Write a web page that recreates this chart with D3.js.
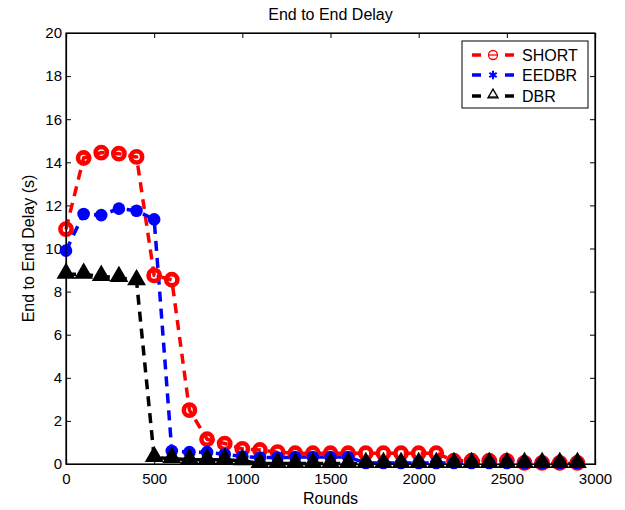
<!DOCTYPE html>
<html><head><meta charset="utf-8">
<script src="https://cdn.jsdelivr.net/npm/d3@7"></script>
<style>body{margin:0;background:#fff;} text{font-family:"Liberation Sans",Arial,sans-serif;}</style>
</head><body>
<svg id="chart" width="625" height="510"></svg>
<script>
const rounds = [0,100,200,300,400,500,600,700,800,900,1000,1100,1200,1300,1400,1500,1600,1700,1800,1900,2000,2100,2200,2300,2400,2500,2600,2700,2800,2900];
const shortVals = [10.9,14.2,14.45,14.4,14.25,8.75,8.55,2.5,1.15,0.95,0.7,0.65,0.55,0.5,0.5,0.5,0.5,0.5,0.5,0.5,0.5,0.5,0.15,0.15,0.15,0.15,0.05,0.05,0.05,0.05];
const eedbrVals = [9.9,11.6,11.55,11.85,11.75,11.35,0.6,0.55,0.55,0.45,0.35,0.3,0.3,0.32,0.32,0.32,0.32,0.05,0.05,0.05,0.05,0.05,0.05,0.05,0.05,0.05,0.05,0.05,0.05,0.05];
const dbrVals = [8.8,8.8,8.7,8.65,8.5,0.3,0.25,0.2,0.2,0.2,0.15,0.02,0.02,0.02,0.02,0.02,0.02,0.02,0.02,0.02,0.02,0.02,0.02,0.02,0.02,0.02,0.02,0.02,0.02,0.02];
const xTicks = [0,500,1000,1500,2000,2500,3000];
const yTicks = [0,2,4,6,8,10,12,14,16,18,20];
const seriesNames = ["SHORT","EEDBR","DBR"];
const seriesColors = ["#ff0000","#0000ff","#000000"];
const title = "End to End Delay";
const xLabel = "Rounds";
const yLabel = "End to End Delay (s)";

const svg = d3.select("#chart");
const L=66, R=595, T=33, B=464;
const x = d3.scaleLinear().domain([0,3000]).range([L,R]);
const y = d3.scaleLinear().domain([0,20]).range([B,T]);

const fs = "15px";
const gx = svg.append("g").attr("transform",`translate(0,${B})`)
  .call(d3.axisBottom(x).tickValues(xTicks).tickSize(-5).tickPadding(9).tickFormat(d3.format("d")));
const gxt = svg.append("g").attr("transform",`translate(0,${T})`)
  .call(d3.axisTop(x).tickValues(xTicks).tickSize(-5).tickFormat(""));
const gy = svg.append("g").attr("transform",`translate(${L},0)`)
  .call(d3.axisLeft(y).tickValues(yTicks).tickSize(-5).tickPadding(4));
const gyr = svg.append("g").attr("transform",`translate(${R},0)`)
  .call(d3.axisRight(y).tickValues(yTicks).tickSize(-5).tickFormat(""));
[gx,gxt,gy,gyr].forEach(g=>{
  g.select(".domain").attr("stroke","#000").attr("stroke-width",1.2);
  g.selectAll(".tick line").attr("stroke","#000");
  g.selectAll("text").attr("font-size",fs).attr("fill","#000").attr("font-family","Liberation Sans, Arial, sans-serif");
});

const plot = svg.append("g");
const line = d3.line().x(d=>x(d[0])).y(d=>y(d[1]));
const data = [shortVals,eedbrVals,dbrVals].map(v=>rounds.map((r,i)=>[r,v[i]]));

data.forEach((d,k)=>{
  plot.append("path").datum(d).attr("d",line).attr("fill","none")
    .attr("stroke",seriesColors[k]).attr("stroke-width",3.5).attr("stroke-dasharray","10,7");
});
plot.selectAll(".ms").data(data[0]).enter().append("circle")
  .attr("cx",d=>x(d[0])).attr("cy",d=>y(d[1])).attr("r",5.6)
  .attr("fill","none").attr("stroke","#ff0000").attr("stroke-width",4.6);
plot.selectAll(".me").data(data[1]).enter().append("circle")
  .attr("cx",d=>x(d[0])).attr("cy",d=>y(d[1])).attr("r",6.3)
  .attr("fill","#0000ff");
const tri = d3.symbol().type(d3.symbolTriangle).size(115);
plot.selectAll(".md").data(data[2]).enter().append("path")
  .attr("d",tri).attr("transform",d=>`translate(${x(d[0])},${y(d[1])-1})`)
  .attr("fill","#000").attr("stroke","#000").attr("stroke-width",1.5);

svg.append("rect").attr("x",L).attr("y",T).attr("width",R-L).attr("height",B-T)
  .attr("fill","none").attr("stroke","#000").attr("stroke-width",1.2);

svg.append("text").attr("x",(L+R)/2).attr("y",20).attr("text-anchor","middle")
  .attr("font-size","16px").text(title);
svg.append("text").attr("x",(L+R)/2).attr("y",504).attr("text-anchor","middle")
  .attr("font-size","16px").text(xLabel);
svg.append("text").attr("transform",`translate(34,${(T+B)/2}) rotate(-90)`).attr("text-anchor","middle")
  .attr("font-size","16px").text(yLabel);

const lg = svg.append("g");
lg.append("rect").attr("x",462).attr("y",41).attr("width",126).attr("height",67)
  .attr("fill","#fff").attr("stroke","#000").attr("stroke-width",1);
const ly = [55,75,96];
seriesNames.forEach((n,k)=>{
  const yy = ly[k];
  lg.append("line").attr("x1",472).attr("x2",481).attr("y1",yy).attr("y2",yy)
    .attr("stroke",seriesColors[k]).attr("stroke-width",3.5);
  lg.append("line").attr("x1",505).attr("x2",514).attr("y1",yy).attr("y2",yy)
    .attr("stroke",seriesColors[k]).attr("stroke-width",3.5);
  if(k===0){
    lg.append("circle").attr("cx",493).attr("cy",yy).attr("r",4.5).attr("fill","none")
      .attr("stroke",seriesColors[k]).attr("stroke-width",1.3);
    lg.append("line").attr("x1",488).attr("x2",498).attr("y1",yy).attr("y2",yy)
      .attr("stroke",seriesColors[k]).attr("stroke-width",1.3);
  } else if(k===1){
    lg.append("path").attr("d",d3.symbol().type(d3.symbolAsterisk).size(50)())
      .attr("transform",`translate(493,${yy})`).attr("fill","none")
      .attr("stroke",seriesColors[k]).attr("stroke-width",2);
  } else {
    lg.append("path").attr("d",d3.symbol().type(d3.symbolTriangle).size(45)())
      .attr("transform",`translate(493,${yy-1})`).attr("fill","none")
      .attr("stroke",seriesColors[k]).attr("stroke-width",1.3);
    lg.append("line").attr("x1",488).attr("x2",498).attr("y1",yy+1).attr("y2",yy+1)
      .attr("stroke",seriesColors[k]).attr("stroke-width",1.3);
  }
  lg.append("text").attr("x",522).attr("y",yy+5.5).attr("font-size","16px").text(n);
});
</script>
</body></html>
